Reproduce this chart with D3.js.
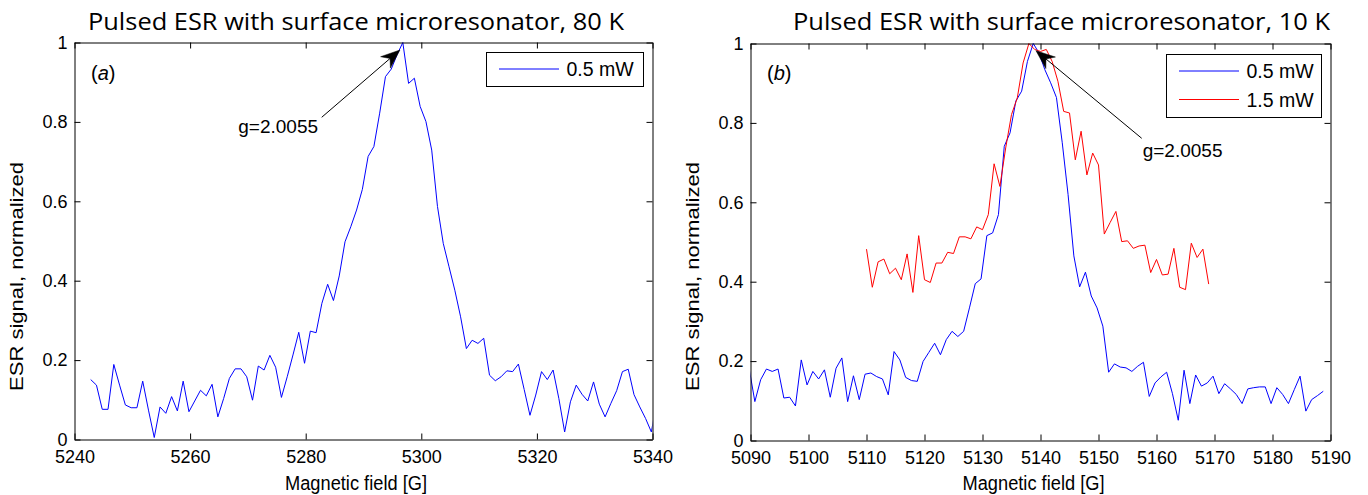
<!DOCTYPE html>
<html><head><meta charset="utf-8">
<script src="https://cdn.jsdelivr.net/npm/d3@7"></script>
<style>body{margin:0;background:#fff}svg{display:block}</style>
</head><body>
<svg id="c" width="1368" height="495"></svg>
<script>
// ---------------- DATA ----------------
const yTicks = [0, 0.2, 0.4, 0.6, 0.8, 1];
const xTicksA = [5240, 5260, 5280, 5300, 5320, 5340];
const xTicksB = [5090, 5100, 5110, 5120, 5130, 5140, 5150, 5160, 5170, 5180, 5190];

// Panel (a): 80 K, 0.5 mW
const fieldA = [5242.8,5243.8,5244.8,5245.8,5246.8,5247.8,5248.8,5249.8,5250.8,5251.8,
5252.8,5253.8,5254.8,5255.8,5256.8,5257.8,5258.8,5259.8,5260.8,5261.8,
5262.8,5263.8,5264.8,5265.8,5266.8,5267.8,5268.8,5269.8,5270.8,5271.8,
5272.8,5273.8,5274.8,5275.8,5276.8,5277.8,5278.8,5279.8,5280.8,5281.8,
5282.8,5283.8,5284.8,5285.8,5286.8,5287.8,5288.8,5289.8,5290.8,5291.8,
5292.8,5293.8,5294.8,5295.8,5296.8,5297.8,5298.8,5299.8,5300.8,5301.8,
5302.8,5303.8,5304.8,5305.8,5306.8,5307.8,5308.8,5309.8,5310.8,5311.8,
5312.8,5313.8,5314.8,5315.8,5316.8,5317.8,5318.8,5319.8,5320.8,5321.8,
5322.8,5323.8,5324.8,5325.8,5326.8,5327.8,5328.8,5329.8,5330.8,5331.8,
5332.8,5333.8,5334.8,5335.8,5336.8,5337.8,5338.8,5339.8,5340.8];
const signalA_05mW = [0.151,0.137,0.076,0.076,0.189,0.137,0.087,0.080,0.080,0.147,
0.074,0.005,0.082,0.066,0.108,0.072,0.147,0.070,0.097,0.124,
0.110,0.139,0.057,0.103,0.154,0.178,0.178,0.158,0.099,0.185,
0.175,0.212,0.182,0.106,0.158,0.213,0.270,0.192,0.273,0.269,
0.343,0.391,0.350,0.412,0.498,0.536,0.578,0.630,0.713,0.738,
0.822,0.914,0.933,0.969,1.000,0.897,0.910,0.839,0.801,0.729,
0.587,0.494,0.435,0.376,0.309,0.229,0.250,0.242,0.255,0.162,
0.148,0.158,0.173,0.171,0.190,0.126,0.061,0.112,0.171,0.151,
0.175,0.103,0.019,0.095,0.137,0.114,0.097,0.145,0.089,0.057,
0.091,0.123,0.171,0.177,0.113,0.082,0.053,0.019,0.100];

// Panel (b): 10 K, 0.5 mW
const fieldB_05mW = [5089.75,5090.75,5091.75,5092.75,5093.75,5094.75,5095.75,5096.75,5097.75,5098.75,
5099.75,5100.75,5101.75,5102.75,5103.75,5104.75,5105.75,5106.75,5107.75,5108.75,
5109.75,5110.75,5111.75,5112.75,5113.75,5114.75,5115.75,5116.75,5117.75,5118.75,
5119.75,5120.75,5121.75,5122.75,5123.75,5124.75,5125.75,5126.75,5127.75,5128.75,
5129.75,5130.75,5131.75,5132.75,5133.75,5134.75,5135.75,5136.75,5137.75,5138.75,
5139.75,5140.75,5141.75,5142.75,5143.75,5144.75,5145.75,5146.75,5147.75,5148.75,
5149.75,5150.75,5151.75,5152.75,5153.75,5154.75,5155.75,5156.75,5157.75,5158.75,
5159.75,5160.75,5161.75,5162.75,5163.75,5164.75,5165.75,5166.75,5167.75,5168.75,
5169.75,5170.75,5171.75,5172.75,5173.75,5174.75,5175.75,5176.75,5177.75,5178.75,
5179.75,5180.75,5181.75,5182.75,5183.75,5184.75,5185.75,5186.75,5187.75,5188.75];
const signalB_05mW = [0.183,0.098,0.153,0.180,0.174,0.180,0.107,0.109,0.087,0.203,
0.140,0.174,0.155,0.178,0.109,0.182,0.208,0.098,0.163,0.103,
0.167,0.170,0.161,0.155,0.115,0.224,0.203,0.159,0.151,0.149,
0.199,0.222,0.245,0.216,0.254,0.275,0.262,0.275,0.334,0.395,
0.407,0.516,0.523,0.569,0.741,0.775,0.855,0.880,0.955,1.000,
0.976,0.934,0.901,0.864,0.750,0.620,0.465,0.387,0.424,0.364,
0.334,0.288,0.172,0.193,0.185,0.183,0.174,0.187,0.197,0.111,
0.145,0.160,0.172,0.118,0.051,0.177,0.093,0.165,0.137,0.145,
0.162,0.118,0.143,0.130,0.116,0.093,0.130,0.133,0.135,0.135,
0.093,0.133,0.116,0.093,0.128,0.162,0.074,0.103,0.113,0.124];

// Panel (b): 10 K, 1.5 mW
const fieldB_15mW = [5110,5111,5112,5113,5114,5115,5116,5117,5118,5119,
5120,5121,5122,5123,5124,5125,5126,5127,5128,5129,
5130,5131,5132,5133,5134,5135,5136,5137,5138,5139,
5140,5141,5142,5143,5144,5145,5146,5147,5148,5149,
5150,5151,5152,5153,5154,5155,5156,5157,5158,5159,
5160,5161,5162,5163,5164,5165,5166,5167,5168,5169];
const signalB_15mW = [0.482,0.386,0.450,0.457,0.420,0.434,0.405,0.470,0.373,0.516,
0.405,0.398,0.447,0.447,0.474,0.471,0.513,0.513,0.508,0.538,
0.531,0.569,0.697,0.640,0.737,0.821,0.863,0.951,1.000,0.985,
0.980,0.985,0.955,0.905,0.829,0.825,0.707,0.779,0.669,0.724,
0.694,0.520,0.549,0.577,0.501,0.503,0.484,0.490,0.492,0.423,
0.456,0.417,0.419,0.484,0.386,0.380,0.497,0.461,0.482,0.394];

const titles = ["Pulsed ESR with surface microresonator, 80 K", "Pulsed ESR with surface microresonator, 10 K"];
const panelLetters = ["a", "b"];
const seriesNames = ["0.5 mW", "1.5 mW"];
const xLabel = "Magnetic field [G]";
const yLabel = "ESR signal, normalized";
const annotationText = "g=2.0055";

// ---------------- DRAWING ----------------
const svg = d3.select("#c");
const FONT = "'Liberation Sans', Arial, Helvetica, sans-serif";
const TFONT = "'Open Sans', 'Noto Sans', sans-serif";
const fmtY = v => String(+v.toFixed(1));

const panels = [
  {
    id: "a", xDomain: [5240, 5340], xTicks: xTicksA,
    left: 74.5, right: 652.5, top: 42.5, bottom: 439.5,
    series: [{x: fieldA, y: signalA_05mW, color: "#0000ff", name: seriesNames[0]}],
    title: titles[0], titleX: 88, titleLen: 536,
    letter: panelLetters[0],
    xLabelX: 285, yLabelX: 23,
    legend: {x: 486.5, y: 52.5, w: 157, h: 34},
    annot: {tx: 5268.34, ty: 0.7708, fx: 5282.77, fy: 0.8116, ax: 5296.3, ay: 0.9811}
  },
  {
    id: "b", xDomain: [5090, 5190], xTicks: xTicksB,
    left: 750.5, right: 1330.5, top: 43.5, bottom: 440.5,
    series: [
      {x: fieldB_05mW, y: signalB_05mW, color: "#0000ff", name: seriesNames[0]},
      {x: fieldB_15mW, y: signalB_15mW, color: "#ff0000", name: seriesNames[1]}
    ],
    title: titles[1], titleX: 793, titleLen: 537,
    letter: panelLetters[1],
    xLabelX: 962.5, yLabelX: 699,
    legend: {x: 1166.5, y: 54.5, w: 155, h: 63},
    annot: {tx: 5157.62, ty: 0.7149, fx: 5157.45, fy: 0.7612, ax: 5139.22, ay: 0.9819}
  }
];

const defs = svg.append("defs");

panels.forEach(p => {
  const g = svg.append("g");
  const x = d3.scaleLinear().domain(p.xDomain).range([p.left, p.right]);
  const y = d3.scaleLinear().domain([0, 1]).range([p.bottom, p.top]);

  defs.append("clipPath").attr("id", "clip" + p.id)
    .append("rect").attr("x", p.left).attr("y", p.top - 1)
    .attr("width", p.right - p.left).attr("height", p.bottom - p.top + 2);

  // data lines
  const line = d3.line().x(d => x(d[0])).y(d => y(d[1]));
  p.series.forEach(s => {
    g.append("path")
      .datum(s.x.map((v, i) => [v, s.y[i]]))
      .attr("clip-path", `url(#clip${p.id})`)
      .attr("fill", "none").attr("stroke", s.color).attr("stroke-width", 1)
      .attr("stroke-linejoin", "round")
      .attr("d", line);
  });

  // axes (MATLAB-like box with inward ticks)
  const styleAxis = sel => {
    sel.attr("font-family", FONT).attr("font-size", 18);
    sel.selectAll("path.domain").attr("stroke", "#000").attr("stroke-width", 1);
    sel.selectAll(".tick line").attr("stroke", "#000");
    sel.selectAll(".tick text").attr("fill", "#000");
  };
  g.append("g").attr("transform", `translate(0,${p.bottom})`)
    .call(d3.axisBottom(x).tickValues(p.xTicks).tickSizeInner(-6).tickSizeOuter(0).tickPadding(11).tickFormat(d3.format("d")))
    .call(styleAxis);
  g.append("g").attr("transform", `translate(0,${p.top})`)
    .call(d3.axisTop(x).tickValues(p.xTicks).tickSizeInner(-6).tickSizeOuter(0).tickFormat(""))
    .call(styleAxis);
  g.append("g").attr("transform", `translate(${p.left},0)`)
    .call(d3.axisLeft(y).tickValues(yTicks).tickSizeInner(-6).tickSizeOuter(0).tickPadding(7).tickFormat(fmtY))
    .call(styleAxis);
  g.append("g").attr("transform", `translate(${p.right},0)`)
    .call(d3.axisRight(y).tickValues(yTicks).tickSizeInner(-6).tickSizeOuter(0).tickFormat(""))
    .call(styleAxis);

  // title
  svg.append("text").attr("x", p.titleX).attr("y", 30)
    .attr("font-family", TFONT).attr("font-size", 24.5).attr("fill", "#000")
    .attr("textLength", p.titleLen).attr("lengthAdjust", "spacingAndGlyphs")
    .text(p.title);

  // x label
  svg.append("text").attr("x", p.xLabelX).attr("y", 490)
    .attr("font-family", FONT).attr("font-size", 20).attr("fill", "#000")
    .attr("textLength", 142).attr("lengthAdjust", "spacingAndGlyphs")
    .text(xLabel);

  // y label
  svg.append("text")
    .attr("transform", `translate(${p.yLabelX},391) rotate(-90)`)
    .attr("font-family", FONT).attr("font-size", 18).attr("fill", "#000")
    .attr("textLength", 229).attr("lengthAdjust", "spacingAndGlyphs")
    .text(yLabel);

  // panel letter
  const lt = svg.append("text").attr("x", p.left + 16.5).attr("y", 80)
    .attr("font-family", FONT).attr("font-size", 20).attr("fill", "#000");
  lt.append("tspan").text("(");
  lt.append("tspan").attr("font-style", "italic").text(p.letter);
  lt.append("tspan").text(")");

  // legend
  const L = p.legend;
  const lg = svg.append("g");
  lg.append("rect").attr("x", L.x).attr("y", L.y).attr("width", L.w).attr("height", L.h)
    .attr("fill", "#fff").attr("stroke", "#000").attr("stroke-width", 1);
  p.series.forEach((s, i) => {
    const cy = L.y + 16.5 + i * 28.5;
    lg.append("line").attr("x1", L.x + 12.5).attr("x2", L.x + 72.5)
      .attr("y1", cy).attr("y2", cy).attr("stroke", s.color).attr("stroke-width", 1);
    lg.append("text").attr("x", L.x + 80).attr("y", cy + 7.3)
      .attr("font-family", FONT).attr("font-size", 19.5).attr("fill", "#000").text(s.name);
  });

  // annotation with arrow
  const A = p.annot;
  const x1 = x(A.fx), y1 = y(A.fy), x2 = x(A.ax), y2 = y(A.ay);
  const ang = Math.atan2(y2 - y1, x2 - x1);
  const ux = Math.cos(ang), uy = Math.sin(ang), nx = -uy, ny = ux;
  const HL = 19, HW = 7.5, notch = 13;
  svg.append("line").attr("x1", x1).attr("y1", y1)
    .attr("x2", x2 - ux * notch).attr("y2", y2 - uy * notch)
    .attr("stroke", "#000").attr("stroke-width", 1);
  const head = [
    [x2, y2],
    [x2 - ux * HL + nx * HW, y2 - uy * HL + ny * HW],
    [x2 - ux * notch, y2 - uy * notch],
    [x2 - ux * HL - nx * HW, y2 - uy * HL - ny * HW]
  ];
  svg.append("path").attr("d", "M" + head.map(d => d.join(",")).join("L") + "Z")
    .attr("fill", "#000").attr("stroke", "#000").attr("stroke-width", 0.5);
  svg.append("text").attr("x", x(A.tx)).attr("y", y(A.ty))
    .attr("font-family", FONT).attr("font-size", 19).attr("fill", "#000")
    .text(annotationText);
});
</script>
</body></html>
